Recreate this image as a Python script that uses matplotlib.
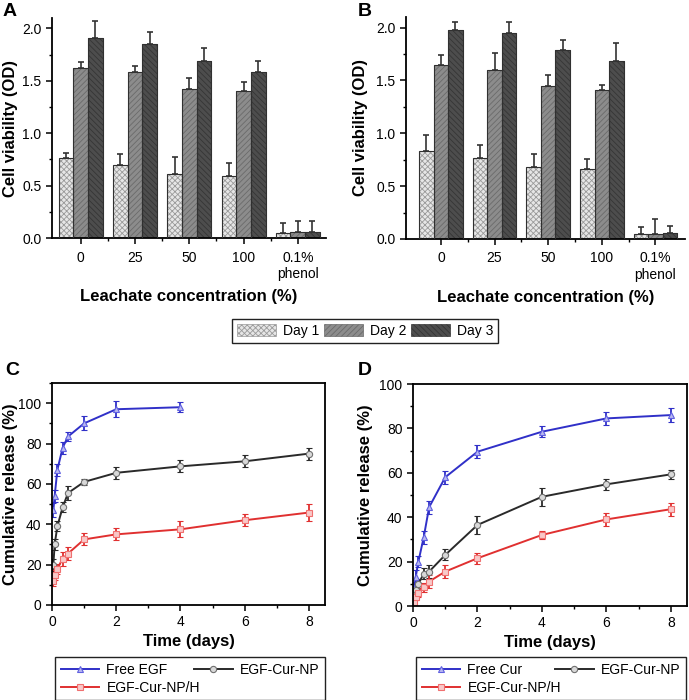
import numpy as np
import matplotlib
matplotlib.use('Agg')
import matplotlib.pyplot as plt
from matplotlib.ticker import MultipleLocator, FixedLocator

plt.rcParams['font.family'] = ['Liberation Sans', 'DejaVu Sans']
plt.rcParams['hatch.linewidth'] = 0.6

# ---- bar data (cell viability, OD) ----
groups = ['0', '25', '50', '100', '0.1%\nphenol']
days = ['Day 1', 'Day 2', 'Day 3']

a_mean = [[0.76, 0.70, 0.61, 0.59, 0.05],
          [1.62, 1.58, 1.42, 1.40, 0.06],
          [1.91, 1.85, 1.69, 1.58, 0.06]]
a_err = [[0.05, 0.10, 0.16, 0.13, 0.09],
         [0.06, 0.06, 0.11, 0.09, 0.10],
         [0.16, 0.12, 0.12, 0.11, 0.10]]

b_mean = [[0.83, 0.77, 0.68, 0.66, 0.05],
          [1.645, 1.60, 1.45, 1.41, 0.05],
          [1.98, 1.95, 1.79, 1.68, 0.06]]
b_err = [[0.15, 0.12, 0.12, 0.10, 0.06],
         [0.10, 0.16, 0.10, 0.05, 0.14],
         [0.07, 0.10, 0.09, 0.17, 0.06]]

# ---- release data ----
t_c = [0.042, 0.083, 0.167, 0.333, 0.5, 1, 2, 4, 6, 8]
free_egf = [47, 54, 67, 78, 83.5, 90, 97, 98]
free_egf_err = [3.5, 3, 3, 3, 2, 3.5, 4, 2.5]
np_c = [20, 30, 39, 48.5, 55.5, 61, 65.5, 68.7, 71.2, 75]
np_c_err = [3, 2.5, 2.5, 2.5, 3.5, 1.5, 3, 3, 3, 3]
nph_c = [12, 15, 18, 23, 25.5, 32.5, 35, 37.5, 42, 45.8]
nph_c_err = [2.5, 2.5, 2.5, 3.5, 3, 3, 3, 4, 3, 4]

t_d = [0.042, 0.083, 0.167, 0.333, 0.5, 1, 2, 4, 6, 8]
free_cur = [8, 13, 20, 31, 44.5, 58, 69.5, 78.5, 84.5, 86]
free_cur_err = [3, 3, 2.5, 3, 3, 3, 3, 2.5, 3, 3]
np_d = [5, 7, 10, 14.5, 15.5, 23, 36.5, 49.2, 54.8, 59.3]
np_d_err = [2, 2, 2, 2.5, 3, 2.5, 4, 4, 2.5, 2]
nph_d = [2, 4, 6, 8.5, 11, 15.5, 21.5, 32, 39, 43.6]
nph_d_err = [1.5, 1.5, 2, 2, 3, 3, 2.5, 2, 3, 3]

fig = plt.figure(figsize=(6.89, 7.0), dpi=100)

bar_colors = ['#e6e6e6', '#8c8c8c', '#4d4d4d']
bar_hatch = ['xxxxxx', '//////', '\\\\\\\\\\\\']
hatch_col = ['#9a9a9a', '#6a6a6a', '#353535']


def bar_panel(rect, means, errs, xlim, letter, lx, ylab_x):
    ax = fig.add_axes(rect)
    x = np.arange(len(groups))
    w = 0.27
    bars = []
    for i in range(3):
        pos = x + (i - 1) * w
        b = ax.bar(pos, means[i], w, color=bar_colors[i], edgecolor=hatch_col[i],
                   hatch=bar_hatch[i], linewidth=0.5, label=days[i], zorder=2)
        ax.bar(pos, means[i], w, color='none', edgecolor='#303030', linewidth=0.8, zorder=3)
        ax.errorbar(pos, means[i], yerr=[np.zeros(len(groups)), errs[i]], fmt='none',
                    ecolor='#333333', elinewidth=1.2, capsize=2.5, capthick=1.2, zorder=4)
        bars.append(b)
    ax.set_xlim(*xlim)
    ax.set_ylim(0, 2.1)
    ax.yaxis.set_major_locator(FixedLocator([0, 0.5, 1.0, 1.5, 2.0]))
    ax.yaxis.set_minor_locator(MultipleLocator(0.25))
    ax.set_yticklabels(['0.0', '0.5', '1.0', '1.5', '2.0'])
    ax.set_xticks(x)
    ax.set_xticklabels(groups, linespacing=1.2)
    ax.xaxis.set_minor_locator(FixedLocator(x[:-1] + 0.5))
    ax.spines['top'].set_visible(False)
    ax.spines['right'].set_visible(False)
    for s in ['left', 'bottom']:
        ax.spines[s].set_linewidth(1.3)
    ax.tick_params(which='major', direction='out', length=4, width=1.1, labelsize=10)
    ax.tick_params(which='minor', direction='out', length=2.5, width=1.0)
    ax.tick_params(axis='x', which='major', pad=5)
    ax.set_ylabel('Cell viability (OD)', fontsize=12, fontweight='bold')
    ax.yaxis.set_label_coords(ylab_x, 0.5)
    ax.set_xlabel('Leachate concentration (%)', fontsize=12, fontweight='bold', labelpad=6)
    fig.text(lx, 0.996, letter, fontsize=14, fontweight='bold', va='top')
    return bars


bars = bar_panel([52 / 689, 1 - 238 / 700, 274 / 689, 220 / 700], a_mean, a_err,
                 (-0.53, 4.52), 'A', 0.004, -0.125)
bar_panel([406 / 689, 1 - 239 / 700, 279 / 689, 222 / 700], b_mean, b_err,
          (-0.65, 4.55), 'B', 358 / 689, -0.135)

fig.legend(bars, days, loc='upper left', ncol=3, mode='expand',
           bbox_to_anchor=(232 / 689, 1 - 319 / 700, 266 / 689, 0.0), borderaxespad=0,
           fancybox=False, edgecolor='#222222', fontsize=10, handlelength=2.8,
           handleheight=0.9, columnspacing=1.0, handletextpad=0.5, borderpad=0.35,
           framealpha=1)


def release_panel(rect, t_blue, blue, blue_err, t_all, black, black_err, red, red_err,
                  blue_name, ylim, letter, lx, ylab_x):
    ax = fig.add_axes(rect)
    kw = dict(markersize=4.5, linewidth=1.4, elinewidth=1.3, capsize=2.5, capthick=1.3,
              markeredgewidth=0.8)
    hb = ax.errorbar(t_blue, blue, yerr=blue_err, color='#3030c8', marker='^',
                     markerfacecolor='#b8b8f0', markeredgecolor='#6060e0', **kw)
    hk = ax.errorbar(t_all, black, yerr=black_err, color='#2a2a2a', marker='o',
                     markerfacecolor='#d8d8d8', markeredgecolor='#707070', **kw)
    hr = ax.errorbar(t_all, red, yerr=red_err, color='#e03030', marker='s',
                     markerfacecolor='#f8c8c8', markeredgecolor='#f07070', **kw)
    ax.set_xlim(0, 8.5)
    ax.set_ylim(*ylim)
    ax.xaxis.set_major_locator(MultipleLocator(2))
    ax.xaxis.set_minor_locator(MultipleLocator(1))
    ax.yaxis.set_major_locator(MultipleLocator(20))
    ax.yaxis.set_minor_locator(MultipleLocator(10))
    for s in ax.spines.values():
        s.set_linewidth(1.3)
    ax.tick_params(which='major', direction='out', length=4, width=1.1, labelsize=10)
    ax.tick_params(which='minor', direction='out', length=2.5, width=1.0)
    ax.set_ylabel('Cumulative release (%)', fontsize=12, fontweight='bold')
    ax.yaxis.set_label_coords(ylab_x, 0.5)
    ax.set_xlabel('Time (days)', fontsize=12, fontweight='bold', labelpad=3)
    x0 = rect[0] + 3 / 689
    ax.legend([hb[0], hr[0], hk[0]], [blue_name, 'EGF-Cur-NP/H', 'EGF-Cur-NP'],
              loc='upper left', ncol=2, mode='expand',
              bbox_to_anchor=(x0, 1 - 657 / 700, 270 / 689, 0.0),
              bbox_transform=fig.transFigure, borderaxespad=0, fancybox=False,
              edgecolor='#222222', fontsize=10, handlelength=2.8, columnspacing=1.0,
              handletextpad=0.5, borderpad=0.4, labelspacing=0.3, framealpha=1)
    fig.text(lx, 1 - 362 / 700, letter, fontsize=14, fontweight='bold', va='top')


release_panel([52 / 689, 1 - 605 / 700, 273 / 689, 222 / 700],
              t_c[:8], free_egf, free_egf_err, t_c, np_c, np_c_err, nph_c, nph_c_err,
              'Free EGF', (0, 110), 'C', 0.008, -0.125)
release_panel([413 / 689, 1 - 606 / 700, 274 / 689, 222 / 700],
              t_d, free_cur, free_cur_err, t_d, np_d, np_d_err, nph_d, nph_d_err,
              'Free Cur', (0, 100), 'D', 358 / 689, -0.145)

fig.savefig('out.png', dpi=100)
plt.close(fig)
